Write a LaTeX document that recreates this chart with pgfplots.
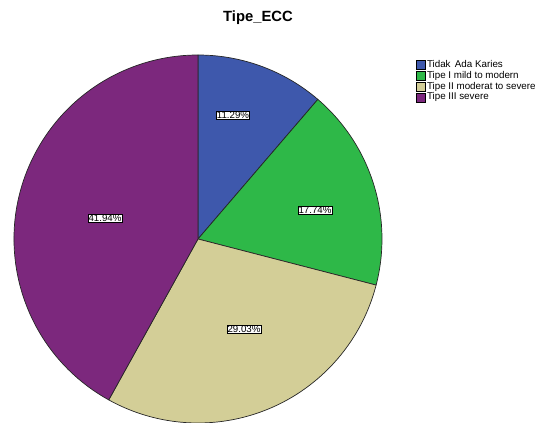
\documentclass[border=0pt]{standalone}
\usepackage{pgfplots}
\pgfplotsset{compat=1.18}
\usepackage{fontspec}
\setmainfont{Liberation Sans}
\definecolor{cA}{HTML}{3E58AC}
\definecolor{cB}{HTML}{2EB848}
\definecolor{cC}{HTML}{D3CE97}
\definecolor{cD}{HTML}{7C287D}
% percentages: 11.29, 17.74, 29.03, 41.94 (cumulative 0, 11.29, 29.03, 58.06, 100)
\newcommand{\pieslice}[3]{%
  \fill[#3, draw=black!85, line width=0.7pt, line join=round]
    (axis cs:198,184) -- (axis cs:{198+184*sin(3.6*#1)},{184+184*cos(3.6*#1)})
    arc[start angle={90-3.6*#1}, end angle={90-3.6*#2}, radius=184pt] -- cycle;}
\begin{document}
\begin{tikzpicture}
\begin{axis}[
  scale only axis, width=536pt, height=423pt,
  xmin=0, xmax=536, ymin=0, ymax=423,
  hide axis, clip=false,
  legend image code/.code={\draw[#1,draw=black,line width=0.5pt] (0pt,-4.6pt) rectangle (9.2pt,4.6pt);},
  legend style={at={(axis cs:416,363.5)}, anchor=north west, draw=none, fill=none,
    font=\fontsize{9.8}{10}\selectfont, inner sep=0pt, row sep=0pt,
    nodes={inner xsep=1.1pt, inner ysep=0.8pt, text height=7.1pt, text depth=2.1pt}},
  legend cell align=left,
]
\addlegendimage{fill=cA}\addlegendentry{Tidak\ \,Ada Karies}
\addlegendimage{fill=cB}\addlegendentry{Tipe I mild to modern}
\addlegendimage{fill=cC}\addlegendentry{Tipe II moderat to severe}
\addlegendimage{fill=cD}\addlegendentry{Tipe III severe}
\pieslice{0}{11.29}{cA}
\pieslice{11.29}{29.03}{cB}
\pieslice{29.03}{58.06}{cC}
\pieslice{58.06}{100}{cD}
\tikzset{pl/.style={draw=black, fill=white, line width=0.6pt, inner sep=0.7pt, font=\fontsize{9.7}{10}\selectfont}}
\node[pl] at (axis cs:233,308) {11.29\%};
\node[pl] at (axis cs:315,213) {17.74\%};
\node[pl] at (axis cs:244,94) {29.03\%};
\node[pl] at (axis cs:105,205) {41.94\%};
\node[font=\bfseries\fontsize{14.8}{16}\selectfont] at (axis cs:258,405) {Tipe\_ECC};
\end{axis}
\pgfresetboundingbox
\path[use as bounding box] (0,0) rectangle (536pt,423pt);
\end{tikzpicture}
\end{document}
